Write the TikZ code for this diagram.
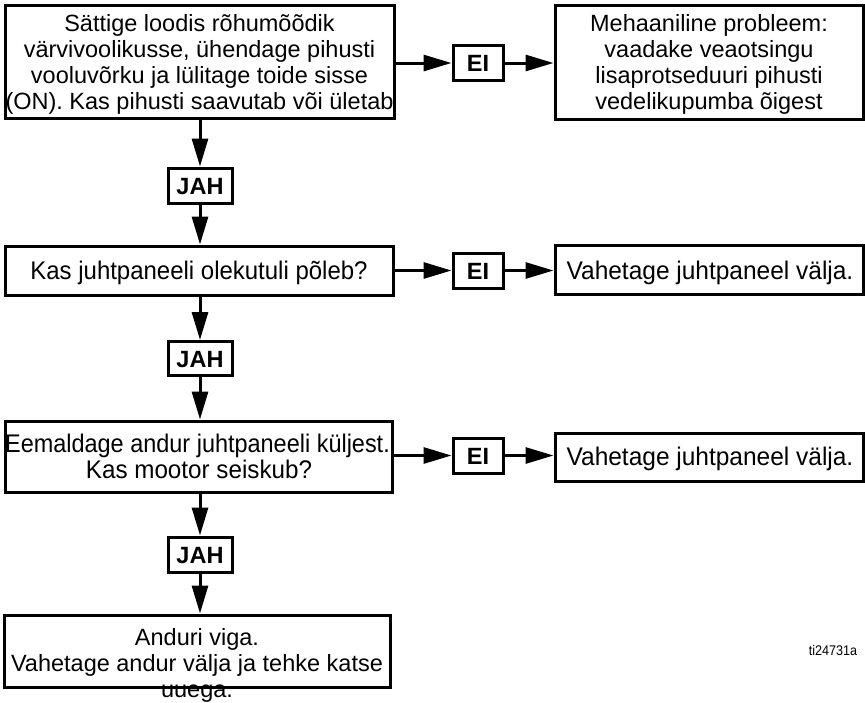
\documentclass[tikz,border=0pt]{standalone}
\usepackage{fontspec}
\setmainfont{Liberation Sans}
\usetikzlibrary{arrows.meta}
\begin{document}
\begin{tikzpicture}[x=1pt,y=-1pt,
  box/.style={draw, line width=3pt, inner sep=0pt},
  lbl/.style={anchor=base, inner sep=0pt, font=\fontsize{23.5}{26}\selectfont},
  nlbl/.style={anchor=base, inner sep=0pt, font=\fontsize{25.5}{26}\selectfont},
  tagtxt/.style={anchor=base, inner sep=0pt, font=\fontsize{23.5}{26}\selectfont\bfseries},
  tag/.style={box},
  conn/.style={line width=3pt, -{Triangle[length=28pt,width=16pt]}}]
\useasboundingbox (0,0) rectangle (865,702);
% boxes
\node[box, minimum width=389pt, minimum height=113pt] (b1) at (199.5,61.5) {};
\node[box, minimum width=308pt, minimum height=114pt] (r1) at (709,62) {};
\node[box, minimum width=388pt, minimum height=49pt] (b2) at (199,270.5) {};
\node[box, minimum width=308pt, minimum height=49pt] (r2) at (709,270) {};
\node[box, minimum width=387pt, minimum height=71pt] (b3) at (198.5,456.5) {};
\node[box, minimum width=308pt, minimum height=48pt] (r3) at (709,457) {};
\node[box, minimum width=386pt, minimum height=72pt] (b4) at (197,651) {};
% tags
\node[tag, minimum width=50pt, minimum height=35pt] (e1) at (478,63) {};
\node[tag, minimum width=50pt, minimum height=35pt] (e2) at (478,270.5) {};
\node[tag, minimum width=50pt, minimum height=35pt] (e3) at (478,455.5) {};
\node[tag, minimum width=64pt, minimum height=35pt] (j1) at (200,185.5) {};
\node[tag, minimum width=64pt, minimum height=34pt] (j2) at (200,358.5) {};
\node[tag, minimum width=64pt, minimum height=35pt] (j3) at (200,554.5) {};
% tag texts
\node[tagtxt] (e1t) at (478,71.5) {EI};
\node[tagtxt] (e2t) at (478,279) {EI};
\node[tagtxt] (e3t) at (478,464) {EI};
\node[tagtxt] (j1t) at (200,194.5) {JAH};
\node[tagtxt] (j2t) at (200,367) {JAH};
\node[tagtxt] (j3t) at (200,563.5) {JAH};
% box texts
\node[lbl] (b1a) at (199.5,31) {Sättige loodis rõhumõõdik};
\node[lbl] (b1b) at (199.5,57) {värvivoolikusse, ühendage pihusti};
\node[lbl] (b1c) at (199.5,83) {vooluvõrku ja lülitage toide sisse};
\node[lbl] (b1d) at (199.5,109) {(ON). Kas pihusti saavutab või ületab};
\node[lbl] (r1a) at (709,31) {Mehaaniline probleem:};
\node[lbl] (r1b) at (709,57) {vaadake veaotsingu};
\node[lbl] (r1c) at (709,83) {lisaprotseduuri pihusti};
\node[lbl] (r1d) at (709,109) {vedelikupumba õigest};
\node[nlbl] (b2a) at (199,279.5) {\scalebox{0.94}[1]{Kas juhtpaneeli olekutuli põleb?}};
\node[nlbl] (r2a) at (710,279) {\scalebox{0.96}[1]{Vahetage juhtpaneel välja.}};
\node[nlbl] (b3a) at (197.5,452) {\scalebox{0.92}[1]{Eemaldage andur juhtpaneeli küljest.}};
\node[nlbl] (b3b) at (199,478) {\scalebox{0.95}[1]{Kas mootor seiskub?}};
\node[nlbl] (r3a) at (710,465.5) {\scalebox{0.96}[1]{Vahetage juhtpaneel välja.}};
\node[lbl] (b4a) at (197,645) {Anduri viga.};
\node[lbl] (b4b) at (197,671) {Vahetage andur välja ja tehke katse};
\node[lbl] (b4c) at (197,697) {uuega.};
\node[anchor=base, inner sep=0pt, font=\fontsize{14}{15}\selectfont] (ref) at (833,655) {\scalebox{0.9}[1]{ti24731a}};
% connectors
\draw[conn] (b1.east |- e1) -- (e1.west);
\draw[conn] (e1.east) -- (r1.west |- e1);
\draw[conn] (b2.east |- e2) -- (e2.west);
\draw[conn] (e2.east) -- (r2.west |- e2);
\draw[conn] (b3.east |- e3) -- (e3.west);
\draw[conn] (e3.east) -- (r3.west |- e3);
\draw[conn] (b1.south -| j1) -- (j1.north);
\draw[conn] (j1.south) -- (b2.north -| j1);
\draw[conn] (b2.south -| j2) -- (j2.north);
\draw[conn] (j2.south) -- (b3.north -| j2);
\draw[conn] (b3.south -| j3) -- (j3.north);
\draw[conn] (j3.south) -- (b4.north -| j3);
\end{tikzpicture}
\end{document}
